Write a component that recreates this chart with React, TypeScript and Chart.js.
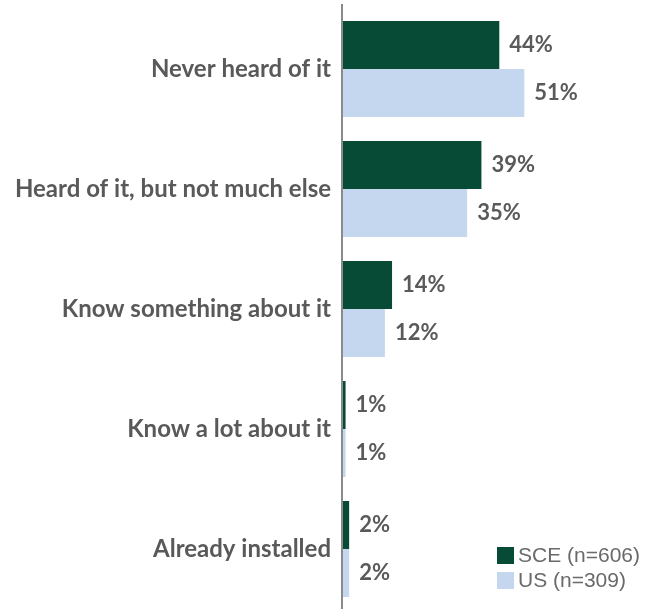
import React, { useEffect, useRef } from "react";
import { Chart, registerables } from "chart.js";
Chart.register(...registerables);

const categories = [
  "Never heard of it",
  "Heard of it, but not much else",
  "Know something about it",
  "Know a lot about it",
  "Already installed",
];
const sceValues = [44, 39, 14, 1, 2];
const usValues = [51, 35, 12, 1, 2];
const seriesNames = ["SCE (n=606)", "US (n=309)"];
const colors = ["#074a35", "#c5d6ef"];

const axisLine = {
  id: "axisLine",
  afterDatasetsDraw(chart: any) {
    const ctx = chart.ctx;
    const x = chart.chartArea.left;
    ctx.save();
    ctx.strokeStyle = "#8a8a8a";
    ctx.lineWidth = 2;
    ctx.beginPath();
    ctx.moveTo(x, 4);
    ctx.lineTo(x, chart.height);
    ctx.stroke();
    ctx.restore();
  },
};

const valueLabels = {
  id: "valueLabels",
  afterDatasetsDraw(chart: any) {
    const ctx = chart.ctx;
    ctx.save();
    ctx.font = "bold 22px Lato";
    ctx.fillStyle = "#5a5a5a";
    ctx.textAlign = "left";
    ctx.textBaseline = "middle";
    chart.data.datasets.forEach((ds: any, i: number) => {
      const meta = chart.getDatasetMeta(i);
      meta.data.forEach((bar: any, j: number) => {
        ctx.fillText(ds.data[j] + "%", bar.x + 10, bar.y);
      });
    });
    ctx.restore();
  },
};

const boxLegend = {
  id: "boxLegend",
  afterDraw(chart: any) {
    const ctx = chart.ctx;
    ctx.save();
    ctx.font = "21px 'Liberation Sans'";
    ctx.textBaseline = "middle";
    ctx.textAlign = "left";
    chart.data.datasets.forEach((ds: any, i: number) => {
      const y = 547 + i * 25;
      ctx.fillStyle = ds.backgroundColor;
      ctx.fillRect(497, y, 17, 17);
      ctx.fillStyle = "#6a6a6a";
      ctx.fillText(ds.label, 518, y + 9);
    });
    ctx.restore();
  },
};

export default function App() {
  const ref = useRef<HTMLCanvasElement>(null);
  useEffect(() => {
    const chart = new Chart(ref.current!, {
      type: "bar",
      data: {
        labels: categories,
        datasets: [
          { label: seriesNames[0], data: sceValues, backgroundColor: colors[0] },
          { label: seriesNames[1], data: usValues, backgroundColor: colors[1] },
        ],
      },
      options: {
        indexAxis: "y",
        animation: false,
        responsive: false,
        maintainAspectRatio: false,
        layout: { padding: { top: 9, right: 27, bottom: 0, left: 0 } },
        datasets: { bar: { categoryPercentage: 0.8, barPercentage: 1 } },
        plugins: { legend: { display: false }, tooltip: { enabled: false } },
        scales: {
          x: { display: false, min: 0, max: 80 },
          y: {
            grid: { display: false, drawTicks: false },
            border: { display: false },
            ticks: {
              font: { family: "Lato", weight: "bold", size: 24 },
              color: "#595959",
              padding: 11,
            },
            afterFit(scale: any) {
              scale.width = 342;
              scale.paddingTop = 0;
              scale.paddingBottom = 0;
            },
          },
        },
      },
      plugins: [axisLine, valueLabels, boxLegend],
    });
    return () => chart.destroy();
  }, []);
  return (
    <div style={{ position: "fixed", left: 0, top: 0, width: 655, height: 609, background: "#fff" }}>
      <canvas ref={ref} width={655} height={609} />
    </div>
  );
}
